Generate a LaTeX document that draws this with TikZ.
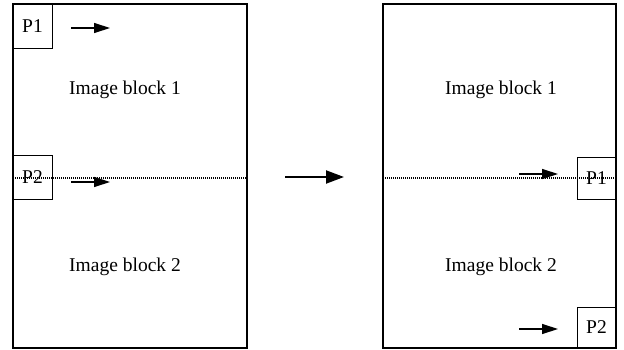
\documentclass[tikz,border=0pt]{standalone}
\usepackage{fontspec}
\setmainfont{Liberation Serif}
\usetikzlibrary{arrows.meta}
\begin{document}
\begin{tikzpicture}[x=1pt,y=-1pt,
  block/.style={draw, line width=1.4pt, outer sep=0pt, inner sep=0pt},
  pbox/.style={draw, line width=0.9pt, outer sep=0pt, inner sep=0pt, font=\fontsize{19.5}{19.5}\selectfont},
  lbl/.style={font=\fontsize{19.5}{20}\selectfont, inner sep=0pt},
  parrow/.style={line width=1.3pt, -{Triangle[length=16pt,width=10pt]}},
  bigarrow/.style={line width=2pt, -{Triangle[length=18pt,width=13pt]}},
  cut/.style={line width=1.1pt, dash pattern=on 1pt off 1pt}]
\useasboundingbox (0,0) rectangle (624,350);
% blocks
\node[block, minimum width=234pt, minimum height=344pt] (L) at (130,176) {};
\node[block, minimum width=233pt, minimum height=344pt] (R) at (499.5,176) {};
% labels
\node[lbl] (L1) at (125,90) {Image block 1};
\node[lbl] (L2) at (125,267) {Image block 2};
\node[lbl] (R1) at (501,90) {Image block 1};
\node[lbl] (R2) at (501,267) {Image block 2};
% dotted cut lines
\coordinate (la) at (13,178);
\coordinate (lb) at (247,178);
\coordinate (ra) at (383,178);
\coordinate (rb) at (616,178);
\draw[cut] (la) -- (lb);
\draw[cut] (ra) -- (rb);
% P boxes
\node[pbox, minimum width=39pt, minimum height=44pt] (LP1) at (32.5,26) {P1};
\node[pbox, minimum width=39pt, minimum height=44pt] (LP2) at (32.5,177) {P2};
\node[pbox, minimum width=39pt, minimum height=42pt] (RP1) at (596.5,178) {P1};
\node[pbox, minimum width=39pt, minimum height=41pt] (RP2) at (596.5,327.5) {P2};
% small arrows
\coordinate (a1s) at (71,28);  \coordinate (a1e) at (110,28);
\coordinate (a2s) at (71,182); \coordinate (a2e) at (110,182);
\coordinate (a3s) at (519,174); \coordinate (a3e) at (558,174);
\coordinate (a4s) at (519,329); \coordinate (a4e) at (558,329);
\draw[parrow] (a1s) -- (a1e);
\draw[parrow] (a2s) -- (a2e);
\draw[parrow] (a3s) -- (a3e);
\draw[parrow] (a4s) -- (a4e);
% big arrow between blocks
\coordinate (ms) at (285,177);
\coordinate (me) at (344,177);
\draw[bigarrow] (ms) -- (me);
\end{tikzpicture}
\end{document}
